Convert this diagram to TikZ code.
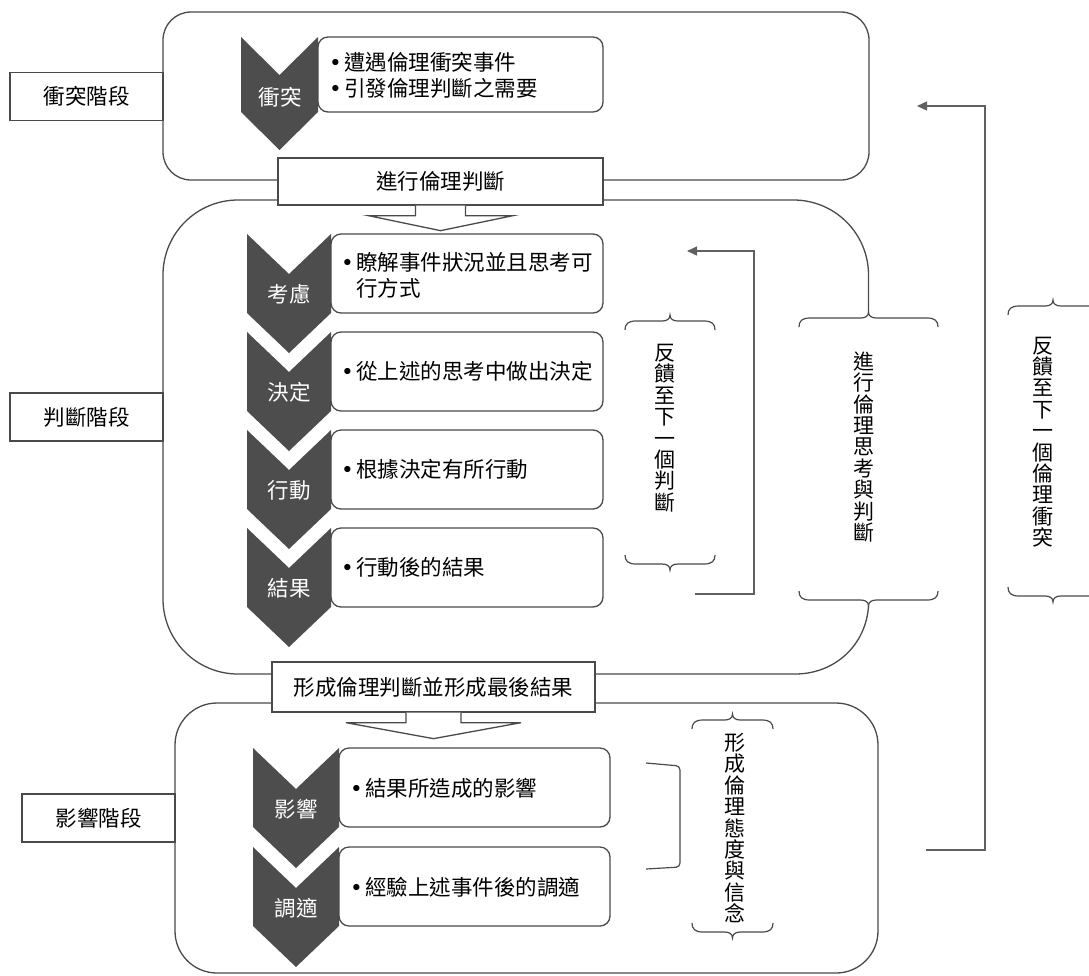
\documentclass[tikz,border=0pt]{standalone}
\usepackage{fontspec}
\setmainfont{Noto Sans CJK TC}
\newfontfamily\bulfont{DejaVu Sans}
\usetikzlibrary{arrows.meta,calc}
\definecolor{lc}{HTML}{4A4A4A}
\definecolor{chevc}{HTML}{4D4D4D}
\definecolor{ac}{HTML}{606060}
\newcommand\bul{\makebox[15pt][l]{\bulfont •}}
\newcommand\hangsp{\hspace*{15pt}}
\newcommand\mainfs{\fontsize{21.5}{26}\selectfont}
\newcommand\vertfs{\fontsize{21}{21.4}\selectfont}
% horizontal brace: x1, x2, y, s (1 = tip up, -1 = tip down)
\newcommand\hbrace[4]{%
  \pgfmathsetmacro\bxm{(#1+#2)/2}%
  \draw[brc] (#1,{#3+9*#4}) .. controls (#1,{#3+3*#4}) and ({#1+3},#3) .. ({#1+11},#3)
    -- ({\bxm-8},#3) .. controls ({\bxm-3},#3) and (\bxm,{#3-2*#4}) .. (\bxm,{#3-6*#4})
    .. controls (\bxm,{#3-2*#4}) and ({\bxm+3},#3) .. ({\bxm+8},#3)
    -- ({#2-11},#3) .. controls ({#2-3},#3) and (#2,{#3+3*#4}) .. (#2,{#3+9*#4});}
% chevron: x, w, top, h, d
\newcommand\chevron[5]{%
  \fill[chevc] (#1,#3) -- ({#1+#2/2},{#3+#5}) -- ({#1+#2},#3) -- ({#1+#2},{#3+#4})
    -- ({#1+#2/2},{#3+#4+#5}) -- (#1,{#3+#4}) -- cycle;}
\tikzset{
  ln/.style={draw=lc, line width=1.3pt},
  brc/.style={draw=lc, line width=1.2pt},
  stage/.style={ln, fill=white, minimum width=153pt, minimum height=48pt, inner sep=0pt, font=\mainfs},
  conn/.style={ln, fill=white, inner sep=0pt, font=\mainfs},
  tbox/.style={ln, fill=white, rounded corners=10pt},
  btext/.style={anchor=west, inner sep=0pt, align=left, font=\mainfs},
  ctext/.style={text=white, inner sep=0pt, font=\mainfs},
  vtext/.style={inner sep=0pt, align=center, font=\vertfs},
  fb/.style={draw=ac, line width=1.4pt, -{Triangle[length=10pt,width=9pt]}},
}
\begin{document}
\begin{tikzpicture}[x=1pt,y=-1pt]
\useasboundingbox (0,0) rectangle (1089,975);
\clip (0,0) rectangle (1089,975);

% big stage frames
\draw[ln, rounded corners=28pt] (163,12) rectangle (869,180);
\draw[ln, rounded corners=75pt] (868.5,312) -- (868.5,200) -- (163,200) -- (163,674) -- (795,674);
\draw[ln] (795,674) .. controls (835,674) and (866,645) .. (868.5,606);
\draw[ln, rounded corners=42pt] (175,703) rectangle (878,973);

% stage labels
\node[stage] (s1) at (86.5,96.5) {衝突階段};
\node[stage] (s2) at (86.5,417) {判斷階段};
\node[stage] (s3) at (98.5,818) {影響階段};

% connector boxes
\node[conn, minimum width=325pt, minimum height=47pt] (c1) at (440.5,181.5) {進行倫理判斷};
\node[conn, minimum width=323pt, minimum height=50pt] (c2) at (433.5,687) {形成倫理判斷並形成最後結果};

% block arrows
\coordinate (a1) at (c1.south);
\coordinate (a2) at (c2.south);
\draw[ln, fill=white] ($(a1)+(-25,0)$) -- ++(0,10) -- ++(-47,0) -- ($(a1)+(0,25)$)
  -- ($(a1)+(72.5,10)$) -- ($(a1)+(25,10)$) -- ($(a1)+(25,0)$);
\draw[ln, fill=white] ($(a2)+(-27.5,0)$) -- ++(0,10) -- ++(-60,0) -- ($(a2)+(0,26)$)
  -- ($(a2)+(87.5,10)$) -- ($(a2)+(27.5,10)$) -- ($(a2)+(27.5,0)$);

% conflict stage
\chevron{241}{77}{37}{75}{38}
\node[ctext] (k1) at (280,97) {衝突};
\draw[tbox] (318,37) rectangle (603,112);
\node[btext] (t1) at (329,75) {\bul{}遭遇倫理衝突事件\\\bul{}引發倫理判斷之需要};

% judgement stage
\chevron{247}{84}{234}{79}{40}
\chevron{247}{84}{332}{79}{40}
\chevron{247}{84}{430}{79}{40}
\chevron{247}{84}{528}{79}{40}
\node[ctext] (k2) at (289,294) {考慮};
\node[ctext] (k3) at (289,392) {決定};
\node[ctext] (k4) at (289,490) {行動};
\node[ctext] (k5) at (289,588) {結果};
\draw[tbox] (331,234) rectangle (603,313);
\draw[tbox] (331,332) rectangle (603,411);
\draw[tbox] (331,430) rectangle (603,509);
\draw[tbox] (331,528) rectangle (603,607);
\node[btext] (t2) at (341,275) {\bul{}瞭解事件狀況並且思考可\\\hangsp{}行方式};
\node[btext] (t3) at (341,371) {\bul{}從上述的思考中做出決定};
\node[btext] (t4) at (341,469) {\bul{}根據決定有所行動};
\node[btext] (t5) at (341,567) {\bul{}行動後的結果};

% impact stage
\chevron{253}{86}{748}{79}{41}
\chevron{253}{86}{847}{79}{41}
\node[ctext] (k6) at (296,809) {影響};
\node[ctext] (k7) at (296,908) {調適};
\draw[tbox] (339,748) rectangle (610,827);
\draw[tbox] (339,847) rectangle (610,926);
\node[btext] (t6) at (350,788) {\bul{}結果所造成的影響};
\node[btext] (t7) at (350,887) {\bul{}經驗上述事件後的調適};

% bracket joining impact items
\draw[brc, rounded corners=4pt] (646,763) -- (680,766) -- (680,867) -- (646,869);

% braces and vertical texts
\hbrace{625}{715}{321}{1}
\hbrace{625}{715}{564}{-1}
\node[vtext] (v1) at (665,428) {反\\饋\\至\\下\\一\\個\\判\\斷};

\hbrace{799}{938}{318}{1}
\hbrace{799}{938}{600}{-1}
\node[vtext] (v2) at (864,447) {進\\行\\倫\\理\\思\\考\\與\\判\\斷};

\hbrace{1008}{1098}{306}{1}
\hbrace{1008}{1098}{596}{-1}
\node[vtext] (v3) at (1043,442) {反\\饋\\至\\下\\一\\個\\倫\\理\\衝\\突};

\hbrace{692}{773}{720}{1}
\hbrace{692}{773}{932}{-1}
\node[vtext] (v4) at (735,828) {形\\成\\倫\\理\\態\\度\\與\\信\\念};

% feedback arrows
\coordinate (f1s) at (695,594);
\coordinate (f1e) at (687,251);
\draw[fb] (f1s) -- (754,594) |- (f1e);
\coordinate (f2s) at (926,850);
\coordinate (f2e) at (917,106);
\draw[fb] (f2s) -- (985,850) |- (f2e);
\end{tikzpicture}
\end{document}
